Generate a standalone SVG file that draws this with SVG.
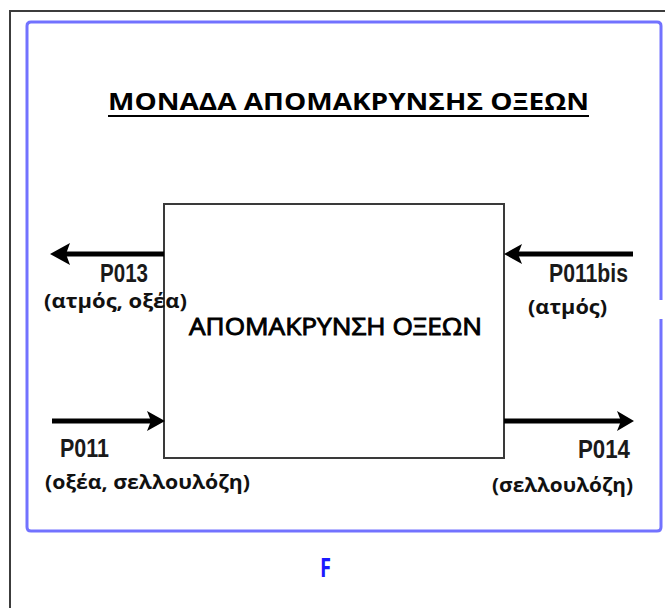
<svg xmlns="http://www.w3.org/2000/svg" width="665" height="608" viewBox="0 0 665 608">
  <defs>
    <style>
      .frame { fill: none; stroke: #3c3c3c; stroke-width: 2; }
      .panel { fill: none; stroke: #7272ff; stroke-width: 3; stroke-linejoin: round; }
      .unit { fill: #ffffff; stroke: #3a3a3a; stroke-width: 2; }
      .flow { fill: none; stroke: #000000; stroke-width: 5; }
      .head { fill: #000000; }
      .title { font-family: "Open Sans", "Liberation Sans", sans-serif; font-weight: bold; font-size: 23px; fill: #000000; }
      .unit-label { font-family: "Open Sans", "Liberation Sans", sans-serif; font-weight: normal; font-size: 24px; fill: #000000; stroke: #000000; stroke-width: 0.9; }
      .code { font-family: "Liberation Sans Narrow", "Liberation Sans", sans-serif; font-weight: bold; font-size: 25px; fill: #1a1a1a; }
      .desc { font-family: "Open Sans", "Liberation Sans", sans-serif; font-weight: bold; font-size: 20px; fill: #111111; }
      .mark { font-family: "Open Sans", "Liberation Sans", sans-serif; font-weight: bold; font-size: 26px; fill: #1a1aff; }
    </style>
  </defs>

  <rect width="665" height="608" fill="#ffffff"/>

  <!-- outer page frame (runs off the right and bottom edges) -->
  <rect class="frame" x="10" y="11" width="700" height="640"/>

  <!-- blue panel with a short break on its right side -->
  <path class="panel" d="M661 300 V26 Q661 22 657 22 H31 Q27 22 27 26 V527 Q27 531 31 531 H657 Q661 531 661 527 V319"/>

  <!-- title -->
  <g id="title">
    <text class="title" x="108" y="110" textLength="481" lengthAdjust="spacingAndGlyphs">ΜΟΝΑΔΑ ΑΠΟΜΑΚΡΥΝΣΗΣ ΟΞΕΩΝ</text>
    <line x1="108" y1="116" x2="589" y2="116" stroke="#000000" stroke-width="2"/>
  </g>

  <!-- process unit -->
  <g id="unit">
    <rect class="unit" x="164" y="204" width="340" height="254"/>
    <text class="unit-label" x="189" y="335" textLength="293" lengthAdjust="spacingAndGlyphs">ΑΠΟΜΑΚΡΥΝΣΗ ΟΞΕΩΝ</text>
  </g>

  <!-- streams -->
  <g id="connectors">
    <!-- P013 out, left -->
    <line class="flow" x1="164" y1="254" x2="64" y2="254"/>
    <path class="head" d="M50 254 L70 243 L66 254 L70 265 Z"/>
    <!-- P011bis in, right -->
    <line class="flow" x1="633" y1="254" x2="516" y2="254"/>
    <path class="head" d="M504 254 L522 244 L518 254 L522 264 Z"/>
    <!-- P011 in, left -->
    <line class="flow" x1="52" y1="421" x2="152" y2="421"/>
    <path class="head" d="M165 421 L147 411 L151 421 L147 431 Z"/>
    <!-- P014 out, right -->
    <line class="flow" x1="504" y1="421" x2="622" y2="421"/>
    <path class="head" d="M634 421 L617 411 L621 421 L617 431 Z"/>
  </g>

  <g id="stream-P013">
    <text class="code" x="100" y="282" textLength="48" lengthAdjust="spacingAndGlyphs">P013</text>
    <text class="desc" x="44" y="308" textLength="143" lengthAdjust="spacingAndGlyphs">(ατμός, οξέα)</text>
  </g>

  <g id="stream-P011bis">
    <text class="code" x="549" y="282" textLength="79" lengthAdjust="spacingAndGlyphs">P011bis</text>
    <text class="desc" x="528" y="314" textLength="79" lengthAdjust="spacingAndGlyphs">(ατμός)</text>
  </g>

  <g id="stream-P011">
    <text class="code" x="60" y="457" textLength="49" lengthAdjust="spacingAndGlyphs">P011</text>
    <text class="desc" x="45" y="489" textLength="205" lengthAdjust="spacingAndGlyphs">(οξέα, σελλουλόζη)</text>
  </g>

  <g id="stream-P014">
    <text class="code" x="578" y="458" textLength="52" lengthAdjust="spacingAndGlyphs">P014</text>
    <text class="desc" x="492" y="492" textLength="141" lengthAdjust="spacingAndGlyphs">(σελλουλόζη)</text>
  </g>

  <g id="mark">
    <text class="mark" x="320" y="577" textLength="11" lengthAdjust="spacingAndGlyphs">F</text>
  </g>
</svg>
